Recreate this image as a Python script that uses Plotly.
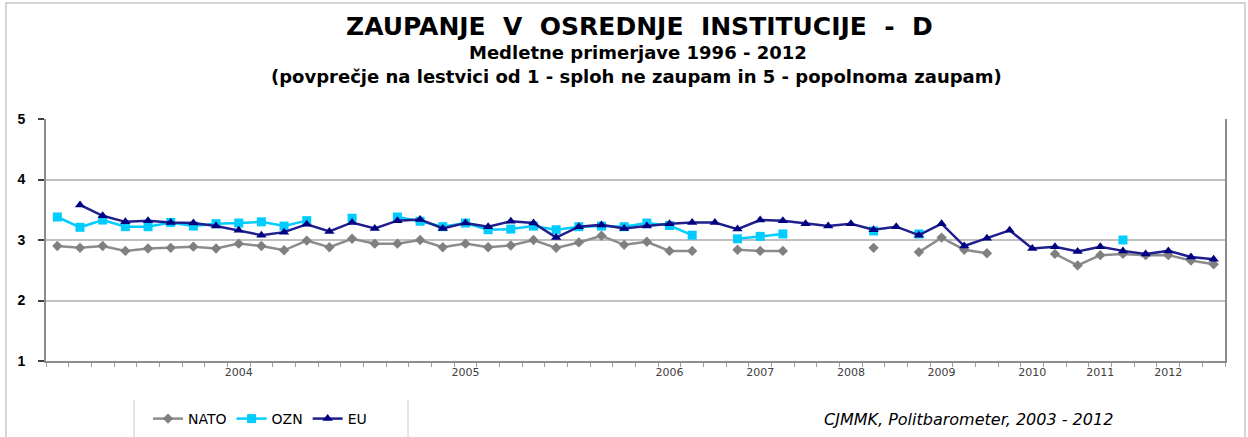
import plotly.graph_objects as go

# ---- data ----
survey_index = list(range(52))
year_ticks = ["2004", "2005", "2006", "2007", "2008", "2009", "2010", "2011", "2012"]
year_tick_index = [8, 18, 27, 31, 35, 39, 43, 46, 49]
y_ticks = [1, 2, 3, 4, 5]

nato = [2.90, 2.87, 2.90, 2.82, 2.86, 2.87, 2.89, 2.86, 2.94, 2.90,
        2.83, 2.99, 2.88, 3.02, 2.94, 2.94, 3.00, 2.88, 2.94, 2.88,
        2.91, 3.00, 2.87, 2.96, 3.07, 2.92, 2.97, 2.82, 2.82, None,
        2.84, 2.82, 2.82, None, None, None, 2.87, None, 2.80, 3.04,
        2.84, 2.78, None, None, 2.77, 2.58, 2.75, 2.77, 2.75, 2.75,
        2.66, 2.60]
ozn = [3.38, 3.21, 3.33, 3.22, 3.22, 3.29, 3.23, 3.27, 3.28, 3.30,
       3.23, 3.32, None, 3.36, None, 3.38, 3.31, 3.22, 3.28, 3.17,
       3.18, 3.23, 3.17, 3.22, 3.23, 3.22, 3.28, 3.24, 3.08, None,
       3.02, 3.06, 3.10, None, None, None, 3.15, None, 3.10, None,
       None, None, None, None, None, None, None, 3.00, None, None,
       None, None]
eu = [None, 3.58, 3.40, 3.30, 3.32, 3.29, 3.28, 3.23, 3.16, 3.08,
      3.13, 3.26, 3.14, 3.29, 3.19, 3.32, 3.34, 3.19, 3.28, 3.22,
      3.31, 3.28, 3.04, 3.22, 3.25, 3.19, 3.23, 3.27, 3.29, 3.29,
      3.18, 3.33, 3.32, 3.27, 3.23, 3.27, 3.17, 3.22, 3.08, 3.27,
      2.90, 3.03, 3.16, 2.86, 2.89, 2.81, 2.89, 2.82, 2.77, 2.82,
      2.72, 2.68]

W, H = 1248, 437
L, R, T, B = 46, 23, 119, 76
PW, PH = W - L - R, H - T - B


def px(x):
    return (x - L) / PW


def py(y):
    return (H - B - y) / PH


fig = go.Figure()
fig.add_trace(go.Scatter(x=survey_index, y=nato, name="NATO", mode="lines+markers",
                         line=dict(color="#8c8c8c", width=2.5),
                         marker=dict(symbol="diamond", size=8, color="#808080"),
                         connectgaps=False))
fig.add_trace(go.Scatter(x=survey_index, y=ozn, name="OZN", mode="lines+markers",
                         line=dict(color="#00ccff", width=2.5),
                         marker=dict(symbol="square", size=9, color="#00ccff"),
                         connectgaps=False))
fig.add_trace(go.Scatter(x=survey_index, y=eu, name="EU", mode="lines+markers",
                         line=dict(color="#1e1e8c", width=2.5),
                         marker=dict(symbol="triangle-up", size=9, color="#000080"),
                         connectgaps=False))

NB = "\u00a0"
title = ("ZAUPANJE" + NB * 2 + "V" + NB * 2 + "OSREDNJE" + NB * 2 + "INSTITUCIJE"
         + NB * 2 + "-" + NB * 2 + "D")
annos = [
    dict(text="<b>" + title + "</b>", x=px(640), y=py(26), size=25, family="DejaVu Sans"),
    dict(text="<b>Medletne primerjave 1996 - 2012</b>", x=px(638), y=py(52.5), size=18,
         family="DejaVu Sans"),
    dict(text="<b>(povprečje na lestvici od 1 - sploh ne zaupam in 5 - popolnoma zaupam)</b>",
         x=px(636), y=py(76), size=18, family="DejaVu Sans"),
]
for a in annos:
    fig.add_annotation(text=a["text"], x=a["x"], y=a["y"], xref="paper", yref="paper",
                       xanchor="center", yanchor="middle", showarrow=False,
                       font=dict(family=a["family"], size=a["size"], color="#000000"))

fig.add_annotation(text="<i>CJMMK, Politbarometer, 2003 - 2012</i>", x=px(968), y=py(419),
                   xref="paper", yref="paper", xanchor="center", yanchor="middle",
                   showarrow=False, font=dict(family="DejaVu Sans", size=16, color="#000000"))

shapes = [
    # outer chart border
    dict(type="rect", xref="paper", yref="paper", x0=px(6), x1=px(1245), y0=py(470), y1=py(3),
         line=dict(color="#c8c8c8", width=1.5)),
    # legend separators
    dict(type="line", xref="paper", yref="paper", x0=px(134), x1=px(134), y0=py(437), y1=py(400),
         line=dict(color="#c8c8c8", width=1)),
    dict(type="line", xref="paper", yref="paper", x0=px(408), x1=px(408), y0=py(437), y1=py(400),
         line=dict(color="#c8c8c8", width=1)),
]

fig.update_layout(
    width=W, height=H,
    margin=dict(l=L, r=R, t=T, b=B, pad=0, autoexpand=False),
    paper_bgcolor="#ffffff", plot_bgcolor="#ffffff",
    showlegend=True,
    legend=dict(orientation="h", xref="container", yref="container",
                x=148 / W, y=1 - 419 / H, xanchor="left", yanchor="middle",
                font=dict(family="DejaVu Sans", size=14, color="#000000"),
                itemwidth=30, tracegroupgap=0, bgcolor="rgba(0,0,0,0)"),
    shapes=shapes,
    xaxis=dict(range=[-0.5, 51.5], tickmode="array", tickvals=year_tick_index, ticktext=year_ticks,
               ticks="", showgrid=False, zeroline=False, showline=True, linecolor="#8c8c8c",
               linewidth=2, tickfont=dict(family="DejaVu Sans", size=11, color="#404040"),
               ticklabelstandoff=0, automargin=False,
               minor=dict(tickmode="array", tickvals=[i - 0.5 for i in range(53)], ticks="outside",
                          ticklen=4, tickcolor="#a0a0a0", tickwidth=1, showgrid=False)),
    yaxis=dict(range=[1, 5], tickmode="array", tickvals=y_ticks,
               ticktext=["<b>%d</b>" % v for v in y_ticks], ticks="outside", ticklen=6,
               tickcolor="#404040", tickwidth=1.5, showgrid=True, gridcolor="#c0c0c0",
               gridwidth=2, zeroline=False, showline=True, linecolor="#8c8c8c", linewidth=2,
               mirror=True, tickfont=dict(family="Liberation Sans", size=14, color="#000000"),
               ticklabelstandoff=10, automargin=False),
)

fig.write_html("out.html", config={"displayModeBar": False},
               post_script="document.body.style.margin='0px';")
